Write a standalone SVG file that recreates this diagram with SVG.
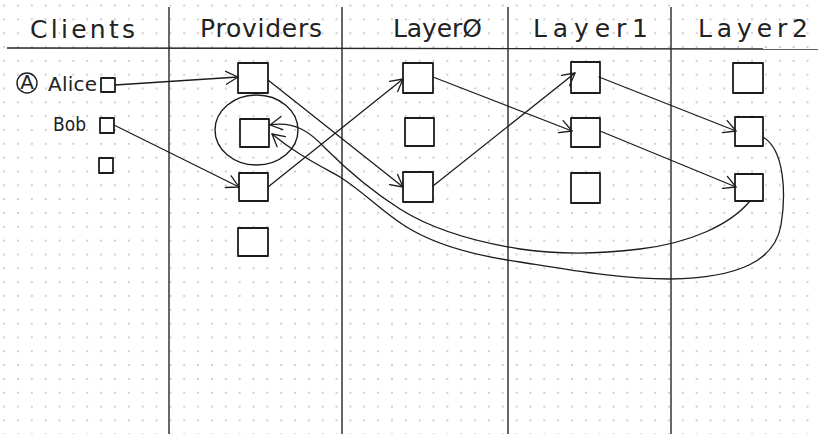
<svg xmlns="http://www.w3.org/2000/svg" width="820" height="434" viewBox="0 0 820 434">
  <style>
    .rule { stroke: #262626; stroke-width: 1.4; fill: none; }
    .box { stroke: #1c1c1c; stroke-width: 1.8; fill: #ffffff; stroke-linejoin: round; }
    .edge { stroke: #1c1c1c; stroke-width: 1.3; fill: none; stroke-linecap: round; }
    .ring { stroke: #1c1c1c; stroke-width: 1.4; fill: none; }
    .head { font-family: "DejaVu Sans", "Liberation Sans", sans-serif; font-size: 25px; fill: #222222; }
    .label { font-family: "DejaVu Sans", "Liberation Sans", sans-serif; font-size: 20px; fill: #222222; }
  </style>
  <defs>
    <!-- dotted notebook paper -->
    <pattern id="dots" patternUnits="userSpaceOnUse" x="11.1" y="-1.4" width="13.85" height="13.83">
      <circle cx="6.92" cy="6.92" r="0.9" fill="#b9b9b9"/>
    </pattern>
    <!-- open hand-drawn style arrowhead -->
    <marker id="arrow" markerUnits="userSpaceOnUse" markerWidth="16" markerHeight="16" viewBox="-14 -8 16 16" refX="0" refY="0" orient="auto">
      <path d="M-12,-6.5 L0,0 L-12,6.5" fill="none" stroke="#1c1c1c" stroke-width="1.3" stroke-linecap="round" stroke-linejoin="round"/>
    </marker>
  </defs>

  <rect x="0" y="0" width="820" height="434" fill="#ffffff"/>
  <rect x="0" y="0" width="820" height="434" fill="url(#dots)"/>

  <!-- table rules -->
  <g id="frame">
    <line class="rule" x1="7" y1="48" x2="818" y2="49"/>
    <line class="rule" x1="169" y1="7" x2="169" y2="434"/>
    <line class="rule" x1="342" y1="7" x2="342" y2="434"/>
    <line class="rule" x1="508" y1="7" x2="508" y2="434"/>
    <line class="rule" x1="671" y1="7" x2="671" y2="434"/>
  </g>

  <!-- column headings -->
  <g id="headings">
    <text class="head" x="30" y="38" textLength="105" lengthAdjust="spacing">Clients</text>
    <text class="head" x="200" y="37" textLength="122" lengthAdjust="spacing">Providers</text>
    <text class="head" x="393" y="37" textLength="89" lengthAdjust="spacing">LayerØ</text>
    <text class="head" x="533" y="37" textLength="115" lengthAdjust="spacing">Layer1</text>
    <text class="head" x="698" y="37" textLength="110" lengthAdjust="spacing">Layer2</text>
  </g>

  <!-- clients -->
  <g id="client-alice">
    <ellipse class="ring" cx="27" cy="83" rx="10" ry="10"/>
    <text class="label" x="27" y="89" font-size="15" text-anchor="middle">A</text>
    <text class="label" x="48" y="91" textLength="49" lengthAdjust="spacing">Alice</text>
    <rect class="box" x="101" y="78" width="14" height="14"/>
  </g>
  <g id="client-bob">
    <text class="label" x="53" y="131" font-size="21" textLength="33" lengthAdjust="spacingAndGlyphs">Bob</text>
    <rect class="box" x="100" y="118" width="14" height="15"/>
  </g>
  <g id="client-3">
    <rect class="box" x="99" y="158" width="14" height="15"/>
  </g>

  <!-- providers -->
  <g id="provider-1"><rect class="box" x="238" y="63" width="30" height="30"/></g>
  <g id="provider-2">
    <ellipse class="ring" cx="256.5" cy="130" rx="41.5" ry="35"/>
    <rect class="box" x="240" y="119" width="29" height="28"/>
  </g>
  <g id="provider-3"><rect class="box" x="239" y="173" width="29" height="28"/></g>
  <g id="provider-4"><rect class="box" x="238" y="228" width="30" height="28"/></g>

  <!-- layer 0 -->
  <g id="layer0-a"><rect class="box" x="403" y="63" width="30" height="30"/></g>
  <g id="layer0-b"><rect class="box" x="405" y="118" width="29" height="28"/></g>
  <g id="layer0-c"><rect class="box" x="403" y="172" width="30" height="30"/></g>

  <!-- layer 1 -->
  <g id="layer1-a"><rect class="box" x="571" y="62" width="29" height="31"/></g>
  <g id="layer1-b"><rect class="box" x="571" y="118" width="29" height="29"/></g>
  <g id="layer1-c"><rect class="box" x="571" y="173" width="29" height="30"/></g>

  <!-- layer 2 -->
  <g id="layer2-a"><rect class="box" x="733" y="63" width="30" height="30"/></g>
  <g id="layer2-b"><rect class="box" x="735" y="117" width="28" height="29"/></g>
  <g id="layer2-c"><rect class="box" x="735" y="174" width="28" height="27"/></g>

  <!-- connectors -->
  <g id="connectors">
    <path class="edge" marker-end="url(#arrow)" d="M115,85 L238,77"/>
    <path class="edge" marker-end="url(#arrow)" d="M114,125 L239,187"/>
    <path class="edge" marker-end="url(#arrow)" d="M268,80 L403,187"/>
    <path class="edge" marker-end="url(#arrow)" d="M268,187 L403,79"/>
    <path class="edge" marker-end="url(#arrow)" d="M433,77 L572,131"/>
    <path class="edge" marker-end="url(#arrow)" d="M433,186 L575,73"/>
    <path class="edge" marker-end="url(#arrow)" d="M599,77 L736,131"/>
    <path class="edge" marker-end="url(#arrow)" d="M600,131 L736,187"/>
    <!-- return path from the lower Layer2 node -->
    <path class="edge" marker-end="url(#arrow)" d="M750,201 C730,225 690,243 640,249 C600,254 560,255 520,249 C470,241 430,228 400,209 C370,190 345,168 325,148 C310,132 295,121 270,125"/>
    <!-- wide return loop from the middle Layer2 node -->
    <path class="edge" marker-end="url(#arrow)" d="M763,137 C785,150 786,195 781,225 C775,260 740,278 670,279 C620,279 570,270 520,262 C470,255 430,242 405,226 C380,210 365,193 340,177 C315,163 295,153 272,134"/>
  </g>
</svg>
